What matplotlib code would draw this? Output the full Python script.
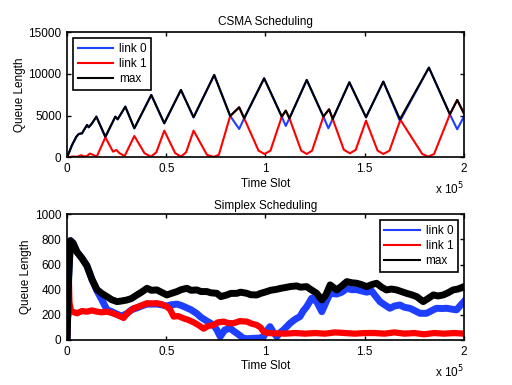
import matplotlib
matplotlib.use("Agg")
import matplotlib.pyplot as plt

plt.rcParams['font.family'] = ['Liberation Sans', 'DejaVu Sans']
plt.rcParams['font.size'] = 8.5

# CSMA scheduling: queue lengths (vertices)
csma_max_x = [0, 2520, 4700, 5870, 7550, 8720, 10070, 10900, 12580, 14765, 19295, 24330, 25500,
              29360, 33900, 42450, 48990, 57380, 63760, 74160, 82215, 86745, 89260, 99330, 108220,
              110230, 112080, 120800, 129195, 132050, 133890, 142280, 150670, 159400, 167785,
              182380, 192950, 196640, 200000]
csma_max_y = [0, 1480, 2480, 2800, 2880, 3360, 3880, 3600, 4080, 4880, 2480, 4880, 4560,
              6080, 3480, 7480, 4080, 8080, 4800, 9880, 4960, 6000, 4680, 9480, 4880,
              5600, 4680, 9280, 4880, 5760, 4600, 9000, 4800, 9080, 4560,
              10760, 5160, 6880, 5280]

csma_l0_x = [0, 2520, 4700, 5870, 7550, 8720, 10070, 10900, 12580, 14765, 19295, 24330, 25500,
             29360, 33900, 42450, 48990, 57380, 63760, 74160, 82215, 86745, 89260, 99330, 108220,
             110230, 112080, 120800, 129195, 131710, 133890, 142280, 150670, 159400, 167785,
             182380, 192950, 196640, 200000]
csma_l0_y = [0, 1480, 2480, 2800, 2880, 3360, 3880, 3600, 4080, 4880, 2400, 4880, 4560,
             6080, 3480, 7480, 4080, 8080, 4800, 9880, 4960, 3400, 4680, 9480, 4880,
             3760, 4680, 9280, 4880, 3480, 4600, 9000, 4800, 9080, 4350,
             10760, 5160, 3360, 4880]

csma_l1_x = [0, 3000, 5000, 7000, 8500, 10000, 11500, 13000, 15000, 19295, 23150, 24830, 26500,
             29030, 33900, 39000, 42280, 45000, 48990, 54500, 57380, 60000, 63760, 70500, 73830,
             76500, 82215, 86745, 89260, 96500, 99500, 102500, 108220, 110230, 112080, 118000,
             120800, 123500, 129195, 132050, 133890, 139500, 142600, 145500, 150670, 156500,
             159400, 162500, 168000, 179000, 182050, 185000, 192950, 196640, 200000]
csma_l1_y = [0, 100, 50, 250, 100, 150, 450, 300, 100, 2400, 680, 880, 480,
             160, 2560, 500, 80, 600, 3200, 500, 80, 600, 3200, 300, 50,
             300, 4960, 6000, 4680, 800, 400, 800, 4880, 5600, 4680, 800,
             400, 800, 4880, 5760, 4600, 900, 480, 900, 4400, 800,
             400, 800, 4500, 400, 80, 400, 5160, 6880, 5280]

# Simplex scheduling: queue lengths (centre of the noisy traces)
spx_max_x = [0, 800, 1700, 3000, 5000, 7500, 10000, 12600, 15100, 17500, 20100, 22500, 25200,
             27500, 30200, 32500, 35200, 37500, 40300, 42500, 45300, 47500, 50300, 52500, 55400,
             57500, 60400, 62500, 65400, 67500, 70500, 72500, 75500, 77500, 80500, 82500, 85600,
             87500, 90600, 92500, 95600, 97500, 100700, 102500, 105700, 107500, 110700, 112500,
             115800, 117500, 120800, 122500, 125800, 128400, 130500, 132600, 135900, 138500,
             141000, 143500, 146000, 148500, 151000, 153500, 156000, 158500, 161000, 163500,
             166100, 168500, 171100, 173500, 176200, 179500, 182000, 184600, 187000, 189600,
             192000, 194600, 197000, 200000]
spx_max_y = [0, 500, 790, 770, 700, 650, 590, 480, 400, 370, 345, 320, 305,
             310, 318, 330, 358, 380, 411, 395, 398, 380, 358, 370, 385,
             400, 411, 395, 398, 385, 385, 375, 371, 345, 358, 370, 371,
             380, 371, 360, 358, 370, 385, 395, 403, 410, 419, 425,
             430, 420, 424, 405, 371, 318, 360, 438, 398, 430,
             464, 455, 451, 440, 424, 440, 451, 420, 398, 405,
             398, 385, 371, 360, 345, 305, 330, 358, 350, 358,
             375, 398, 405, 424]

spx_l0_x = [0, 800, 1700, 3000, 5000, 7500, 10000, 12600, 15100, 17500, 20100, 22500, 25200,
            27500, 30200, 32500, 35200, 37500, 40300, 42500, 45300, 47500, 50300, 52500, 55400,
            57500, 60400, 62500, 65400, 67500, 70500, 73800, 75500, 77200, 79500, 82200, 84000,
            85600, 88900, 91000, 93900, 97000, 99000, 101000, 102300, 104000, 105700, 107500,
            109100, 112400, 115000, 117400, 119000, 120800, 123300, 125800, 128400, 130500,
            132600, 135900, 138500, 141000, 143500, 146000, 148500, 151000, 153500, 154400,
            157700, 160000, 162700, 165000, 167800, 170000, 172800, 175000, 177900, 181200,
            184000, 186200, 189000, 191300, 194000, 196300, 198000, 200000]
spx_l0_y = [0, 500, 790, 770, 700, 650, 590, 480, 390, 320, 240, 225, 205,
            190, 210, 240, 255, 270, 285, 285, 285, 280, 270, 280, 285,
            275, 255, 240, 210, 180, 150, 119, 80, 27, 80, 93, 70,
            53, 13, 10, 13, 15, 27, 80, 106, 60, 27, 60,
            80, 133, 165, 186, 230, 265, 332, 305, 225, 300,
            371, 365, 380, 410, 400, 400, 390, 380, 390, 371,
            305, 280, 252, 270, 278, 260, 252, 235, 212, 212,
            235, 252, 250, 252, 245, 239, 270, 305]

spx_l1_x = [0, 500, 800, 1200, 2000, 5000, 7500, 10000, 12500, 15100, 17500, 20100, 22500,
            25200, 28500, 30500, 33600, 36000, 40300, 42500, 45300, 47500, 50300, 52000, 53700,
            56000, 58700, 61000, 63800, 66000, 68800, 71000, 73800, 76000, 78900, 81000, 83900,
            87000, 90600, 93000, 95600, 97500, 99000, 101000, 104000, 110000, 115000, 120000,
            125000, 130000, 135000, 140000, 145000, 150000, 155000, 160000, 165000, 170000,
            175000, 180000, 185000, 190000, 195000, 200000]
spx_l1_y = [0, 300, 550, 300, 230, 212, 230, 225, 235, 225, 220, 225, 215,
            199, 175, 215, 252, 265, 292, 290, 292, 285, 265, 240, 186,
            190, 172, 160, 140, 120, 90, 110, 119, 140, 146, 135, 133,
            150, 146, 130, 119, 100, 66, 55, 53, 50, 55, 50,
            55, 50, 60, 55, 50, 55, 55, 50, 60, 50,
            55, 45, 55, 50, 55, 50]

xticks = [0, 50000, 100000, 150000, 200000]
xtick_labels = ['0', '0.5', '1', '1.5', '2']

fig = plt.figure(figsize=(5.12, 3.85), dpi=100)
ax1 = fig.add_axes([0.131, 0.5914, 0.775, 0.3247])
ax2 = fig.add_axes([0.131, 0.117, 0.775, 0.3265])

ax1.plot(csma_l0_x, csma_l0_y, color='#1f3fff', lw=1.5, label='link 0')
ax1.plot(csma_l1_x, csma_l1_y, color='#ff0000', lw=1.5, label='link 1')
ax1.plot(csma_max_x, csma_max_y, color='black', lw=1.5, label='max')
ax1.set_ylim(0, 15000)
ax1.set_yticks([0, 5000, 10000, 15000])
ax1.set_title('CSMA Scheduling', fontsize=8.5, pad=5)
leg1 = ax1.legend(loc='upper left', handlelength=3, fancybox=False, framealpha=1,
                  edgecolor='black', borderaxespad=0.5, labelspacing=0.25, handletextpad=0.5)

ax2.plot(spx_l0_x, spx_l0_y, color='#1f3fff', lw=5, label='link 0', solid_joinstyle='round')
ax2.plot(spx_l1_x, spx_l1_y, color='#ff0000', lw=4.5, label='link 1', solid_joinstyle='round')
ax2.plot(spx_max_x, spx_max_y, color='black', lw=5, label='max', solid_joinstyle='round')
ax2.set_ylim(0, 1000)
ax2.set_yticks([0, 200, 400, 600, 800, 1000])
ax2.set_title('Simplex Scheduling', fontsize=8.5, pad=4)
leg2 = ax2.legend(loc='upper right', handlelength=3, fancybox=False, framealpha=1,
                  edgecolor='black', borderaxespad=0.5, labelspacing=0.25, handletextpad=0.5)
for line in leg2.get_lines():
    line.set_linewidth(1.5)

for ax, leg in ((ax1, leg1), (ax2, leg2)):
    leg.get_frame().set_linewidth(1.2)
    ax.set_xlim(0, 200000)
    ax.set_xticks(xticks)
    ax.set_xticklabels(xtick_labels)
    ax.set_xlabel('Time Slot', labelpad=2)
    ax.set_ylabel('Queue Length', labelpad=2)
    ax.tick_params(direction='in', top=True, right=True, length=3, width=1, pad=4)
    for sp in ax.spines.values():
        sp.set_linewidth(1.2)
    ax.text(1.0, -0.19, r'x 10$^5$', transform=ax.transAxes, ha='right', va='top')

fig.savefig('out.png', dpi=100)
